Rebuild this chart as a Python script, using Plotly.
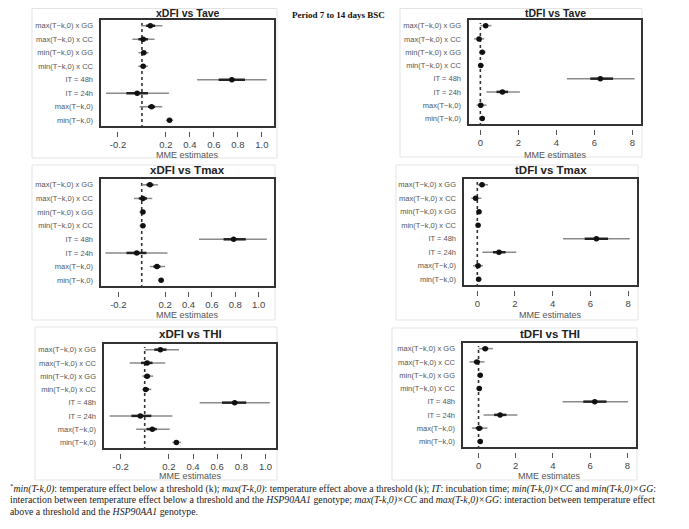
import plotly.graph_objects as go

# page body has an 8px margin; the figure is offset by it
OFF = 8
W, H = 689 - 2 * OFF, 529 - 2 * OFF

# ---------------- data ----------------
row_labels = ["max(T−k,0) x GG", "max(T−k,0) x CC", "min(T−k,0) x GG", "min(T−k,0) x CC",
              "IT = 48h", "IT = 24h", "max(T−k,0)", "min(T−k,0)"]
row_pos = [8, 7, 6, 5, 4, 3, 2, 1]

titles = ["xDFI vs Tave", "tDFI vs Tave", "xDFI vs Tmax", "tDFI vs Tmax", "xDFI vs THI", "tDFI vs THI"]

xdfi_tick_vals = [-0.2, 0.2, 0.4, 0.6, 0.8, 1.0]
xdfi_tick_text = ["-0.2", "0.2", "0.4", "0.6", "0.8", "1.0"]
tdfi_tick_vals = [0, 2, 4, 6, 8]
tdfi_tick_text = ["0", "2", "4", "6", "8"]

# xDFI vs Tave
est_1 = [0.07, 0.01, 0.015, 0.01, 0.75, -0.04, 0.08, 0.23]
lo95_1 = [-0.005, -0.08, -0.03, -0.03, 0.46, -0.30, -0.02, 0.20]
hi95_1 = [0.17, 0.105, 0.055, 0.05, 1.04, 0.225, 0.17, 0.26]
loin_1 = [0.035, -0.03, -0.005, -0.01, 0.64, -0.13, 0.05, 0.215]
hiin_1 = [0.11, 0.05, 0.035, 0.03, 0.86, 0.05, 0.11, 0.245]

# tDFI vs Tave
est_2 = [0.28, -0.07, 0.10, 0.02, 6.31, 1.16, 0.02, 0.10]
lo95_2 = [0.0, -0.33, -0.04, -0.12, 4.55, 0.32, -0.20, 0.0]
hi95_2 = [0.58, 0.20, 0.28, 0.18, 8.11, 2.08, 0.32, 0.23]
loin_2 = [0.15, -0.18, 0.03, -0.05, 5.78, 0.85, -0.08, 0.05]
hiin_2 = [0.40, 0.05, 0.18, 0.09, 6.98, 1.46, 0.15, 0.16]

# xDFI vs Tmax
est_3 = [0.07, 0.01, 0.01, 0.01, 0.786, -0.043, 0.13, 0.166]
lo95_3 = [0.0, -0.066, -0.02, -0.02, 0.49, -0.31, 0.07, 0.14]
hi95_3 = [0.14, 0.09, 0.035, 0.035, 1.07, 0.22, 0.20, 0.19]
loin_3 = [0.04, -0.025, 0.0, 0.0, 0.70, -0.13, 0.10, 0.155]
hiin_3 = [0.10, 0.045, 0.025, 0.025, 0.89, 0.04, 0.16, 0.18]

# tDFI vs Tmax
est_4 = [0.25, -0.09, 0.09, 0.04, 6.32, 1.15, 0.04, 0.07]
lo95_4 = [0.0, -0.32, -0.05, -0.09, 4.55, 0.27, -0.23, -0.05]
hi95_4 = [0.57, 0.21, 0.21, 0.16, 8.09, 2.07, 0.30, 0.21]
loin_4 = [0.12, -0.20, 0.02, -0.02, 5.70, 0.83, -0.10, 0.01]
hiin_4 = [0.38, 0.02, 0.16, 0.10, 6.94, 1.50, 0.17, 0.14]

# xDFI vs THI
est_5 = [0.13, 0.02, 0.02, 0.008, 0.745, -0.036, 0.063, 0.262]
lo95_5 = [0.0, -0.124, -0.02, -0.02, 0.455, -0.29, -0.07, 0.23]
hi95_5 = [0.284, 0.17, 0.07, 0.055, 1.035, 0.23, 0.207, 0.30]
loin_5 = [0.08, -0.03, 0.0, -0.01, 0.64, -0.11, 0.015, 0.245]
hiin_5 = [0.18, 0.065, 0.045, 0.035, 0.84, 0.055, 0.10, 0.28]

# tDFI vs THI
est_6 = [0.36, -0.09, 0.09, 0.04, 6.25, 1.16, 0.04, 0.09]
lo95_6 = [0.0, -0.48, -0.05, -0.12, 4.52, 0.27, -0.36, -0.04]
hi95_6 = [0.77, 0.32, 0.23, 0.18, 8.04, 2.09, 0.48, 0.23]
loin_6 = [0.20, -0.25, 0.02, -0.03, 5.63, 0.84, -0.15, 0.02]
hiin_6 = [0.52, 0.08, 0.16, 0.11, 6.88, 1.50, 0.22, 0.16]

panel_data = [
    (est_1, lo95_1, hi95_1, loin_1, hiin_1),
    (est_2, lo95_2, hi95_2, loin_2, hiin_2),
    (est_3, lo95_3, hi95_3, loin_3, hiin_3),
    (est_4, lo95_4, hi95_4, loin_4, hiin_4),
    (est_5, lo95_5, hi95_5, loin_5, hiin_5),
    (est_6, lo95_6, hi95_6, loin_6, hiin_6),
]

x_ranges = [[-0.35, 1.11], [-0.65, 8.5], [-0.357, 1.14], [-0.76, 8.53], [-0.345, 1.095], [-0.89, 8.52]]

# ---------------- layout geometry (window pixels) ----------------
boxes = [(100, 275, 19, 127), (468, 642, 19, 125),
         (100, 275, 178, 287), (463, 638, 178, 286),
         (103, 277, 343, 449), (462, 637, 342, 448)]
outer = [(32, 277, 8.5, 158), (400, 642, 8.5, 157),
         (32, 275, 165, 320), (396, 638, 165, 320),
         (35, 277, 327, 480), (392, 637, 328, 480)]
title_y = [12.5, 12.5, 170, 170, 334, 334]
title_size = [10.5, 10.5, 11.5, 11.5, 11.5, 11.5]
xlab_y = [155, 155, 315, 315, 476, 476]
EXT = 4


def px(x):
    return (x - OFF) / W


def py(y):
    return 1 - (y - OFF) / H


fig = go.Figure()
shapes = []
annotations = []
SANS = "Liberation Sans, Arial, sans-serif"
SERIF = "Liberation Serif, Times New Roman, serif"

for i in range(6):
    n = i + 1
    xa = "x" if n == 1 else f"x{n}"
    ya = "y" if n == 1 else f"y{n}"
    L, R, T, B = boxes[i]
    unit = (B - T) / 8.0
    est, lo, hi, loi, hii = panel_data[i]
    left = i % 2 == 0

    # zero reference line
    fig.add_trace(go.Scatter(x=[0, 0], y=[0.42, 8.2], mode="lines",
                             line=dict(color="#333333", width=1.6, dash="3px,3px"),
                             xaxis=xa, yaxis=ya, showlegend=False, hoverinfo="skip"))
    # 95% interval (thin grey)
    fig.add_trace(go.Scatter(
        x=est, y=row_pos, mode="markers", marker=dict(size=1, color="rgba(0,0,0,0)"),
        error_x=dict(type="data", symmetric=False,
                     array=[h - e for h, e in zip(hi, est)],
                     arrayminus=[e - l for e, l in zip(est, lo)],
                     color="#8a8a8a", thickness=1.5, width=0),
        xaxis=xa, yaxis=ya, showlegend=False, hoverinfo="skip"))
    # inner interval (thick dark) + estimate
    fig.add_trace(go.Scatter(
        x=est, y=row_pos, mode="markers", marker=dict(size=5.5, color="#111111"),
        error_x=dict(type="data", symmetric=False,
                     array=[h - e for h, e in zip(hii, est)],
                     arrayminus=[e - l for e, l in zip(est, loi)],
                     color="#222222", thickness=2.5, width=0),
        xaxis=xa, yaxis=ya, showlegend=False))

    tv = xdfi_tick_vals if left else tdfi_tick_vals
    tt = xdfi_tick_text if left else tdfi_tick_text
    fig.layout[f"xaxis{'' if n == 1 else n}"] = dict(
        domain=[px(L), px(R)], range=x_ranges[i], anchor=ya,
        showgrid=False, zeroline=False, showline=False,
        ticks="outside", ticklen=5, tickwidth=1, tickcolor="#555555",
        tickvals=tv, ticktext=tt, tickfont=dict(family=SANS, size=9.5, color="#444444"),
        fixedrange=True)
    fig.layout[f"yaxis{'' if n == 1 else n}"] = dict(
        domain=[py(B + EXT), py(T)], range=[0.5 - EXT / unit, 8.5], anchor=xa,
        showgrid=False, zeroline=False, showline=False, ticks="",
        tickvals=row_pos, ticktext=row_labels, ticklabelstandoff=6,
        tickfont=dict(family=SANS, size=7.5, color="#555555"), fixedrange=True)

    # outer light frame
    oL, oR, oT, oB = outer[i]
    shapes.append(dict(type="rect", xref="paper", yref="paper",
                       x0=px(oL), x1=px(oR), y0=py(oB), y1=py(oT),
                       line=dict(color="#e3e3e3", width=1), layer="below"))
    # inner box
    shapes.append(dict(type="rect", xref="paper", yref="paper",
                       x0=px(L), x1=px(R), y0=py(B), y1=py(T),
                       line=dict(color="#333333", width=2)))
    cx = px((L + R) / 2)
    annotations.append(dict(text=f"<b>{titles[i]}</b>", x=cx, y=py(title_y[i]), xref="paper", yref="paper",
                            showarrow=False, xanchor="center", yanchor="middle",
                            font=dict(family=SANS, size=title_size[i], color="#222222")))
    annotations.append(dict(text="MME estimates", x=cx, y=py(xlab_y[i]), xref="paper", yref="paper",
                            showarrow=False, xanchor="center", yanchor="middle",
                            font=dict(family=SANS, size=9, color="#555555")))

annotations.append(dict(text="<b>Period 7 to 14 days BSC</b>", x=px(290), y=py(15), xref="paper", yref="paper",
                        showarrow=False, xanchor="left", yanchor="middle",
                        font=dict(family=SERIF, size=9, color="#111111")))

foot_lines = [
    "<sup>*</sup><i>min(T-k,0)</i>: temperature effect below a threshold (k); <i>max(T-k,0)</i>: temperature effect above a threshold (k); <i>IT</i>: incubation time; <i>min(T-k,0)×CC</i> and <i>min(T-k,0)×GG</i>:",
    "interaction between temperature effect below a threshold and the <i>HSP90AA1</i> genotype; <i>max(T-k,0)×CC</i> and <i>max(T-k,0)×GG</i>: interaction between temperature effect",
    "above a threshold and the <i>HSP90AA1</i> genotype.",
]
foot_y = [488, 500, 511]
for t, yy in zip(foot_lines, foot_y):
    annotations.append(dict(text=t, x=px(OFF), y=py(yy), xref="paper", yref="paper",
                            showarrow=False, xanchor="left", yanchor="middle",
                            font=dict(family=SERIF, size=9.8, color="#222222")))

fig.update_layout(width=W, height=H, margin=dict(l=0, r=0, t=0, b=0),
                  paper_bgcolor="white", plot_bgcolor="white",
                  shapes=shapes, annotations=annotations, showlegend=False)

fig.write_html("out.html")
